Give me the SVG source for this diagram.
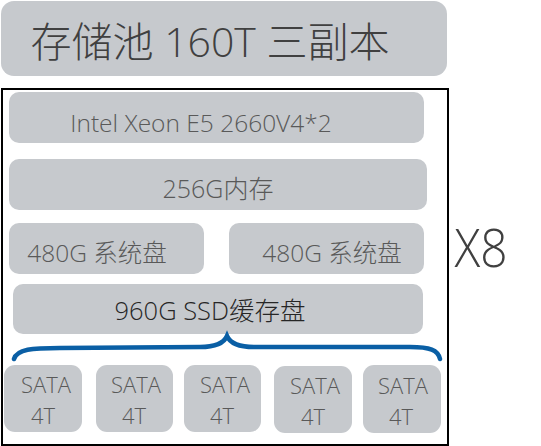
<svg xmlns="http://www.w3.org/2000/svg" width="541" height="446" viewBox="0 0 541 446">
<style>
.box{fill:#c6c9cd;}
.t{font-family:"Open Sans","Noto Sans CJK SC",sans-serif;font-weight:300;fill:#595959;text-anchor:middle;}
.dark{fill:#262626;}
.title{fill:#404040;}
</style>
<rect width="541" height="446" fill="#ffffff"/>
<g id="pool">
<rect class="box" x="1" y="1" width="446" height="75" rx="13"/>
<text class="t title" x="210" y="57" font-size="41">存储池 160T 三副本</text>
</g>
<rect id="server-frame" x="2" y="89" width="446" height="356" fill="none" stroke="#000" stroke-width="2"/>
<g id="cpu">
<rect class="box" x="9" y="92" width="415" height="51" rx="10"/>
<text class="t" x="201" y="132" font-size="24.5">Intel Xeon E5 2660V4*2</text>
</g>
<g id="mem">
<rect class="box" x="9" y="159" width="418" height="51" rx="10"/>
<text class="t" x="218" y="198" font-size="25">256G内存</text>
</g>
<g id="sys1">
<rect class="box" x="9" y="223" width="195" height="51" rx="10"/>
<text class="t" x="97" y="262" font-size="24.5">480G 系统盘</text>
</g>
<g id="sys2">
<rect class="box" x="229" y="223" width="195" height="51" rx="10"/>
<text class="t" x="332" y="262" font-size="24.5">480G 系统盘</text>
</g>
<g id="ssd">
<rect class="box" x="13" y="284" width="410" height="50" rx="10"/>
<text class="t dark" x="210" y="320" font-size="25.5">960G SSD缓存盘</text>
</g>
<g id="connectors">
<path d="M14,359 C17,349 32,348 60,348 L200,347 C215,347 224,343 227,336 C230,343 239,347 254,347 L410,347 C430,347 438,350 440,359" fill="none" stroke="#0a5fa5" stroke-width="4.5" stroke-linecap="round"/>
</g>
<g id="sata1">
<rect class="box" x="4" y="365" width="78" height="67" rx="11"/>
<text class="t" x="46" y="393" font-size="22">SATA</text>
<text class="t" x="43" y="424" font-size="22">4T</text>
</g>
<g id="sata2">
<rect class="box" x="96" y="365" width="77" height="67" rx="11"/>
<text class="t" x="136" y="393" font-size="22">SATA</text>
<text class="t" x="134" y="424" font-size="22">4T</text>
</g>
<g id="sata3">
<rect class="box" x="184" y="365" width="77" height="67" rx="11"/>
<text class="t" x="225" y="393" font-size="22">SATA</text>
<text class="t" x="222" y="424" font-size="22">4T</text>
</g>
<g id="sata4">
<rect class="box" x="274" y="366" width="78" height="67" rx="11"/>
<text class="t" x="315" y="394" font-size="22">SATA</text>
<text class="t" x="313" y="425" font-size="22">4T</text>
</g>
<g id="sata5">
<rect class="box" x="363" y="365" width="78" height="68" rx="11"/>
<text class="t" x="403" y="394" font-size="22">SATA</text>
<text class="t" x="401" y="425" font-size="22">4T</text>
</g>
<g id="multiplier">
<text class="t title" x="481" y="267" font-size="54" textLength="53" lengthAdjust="spacingAndGlyphs">X8</text>
</g>
</svg>
